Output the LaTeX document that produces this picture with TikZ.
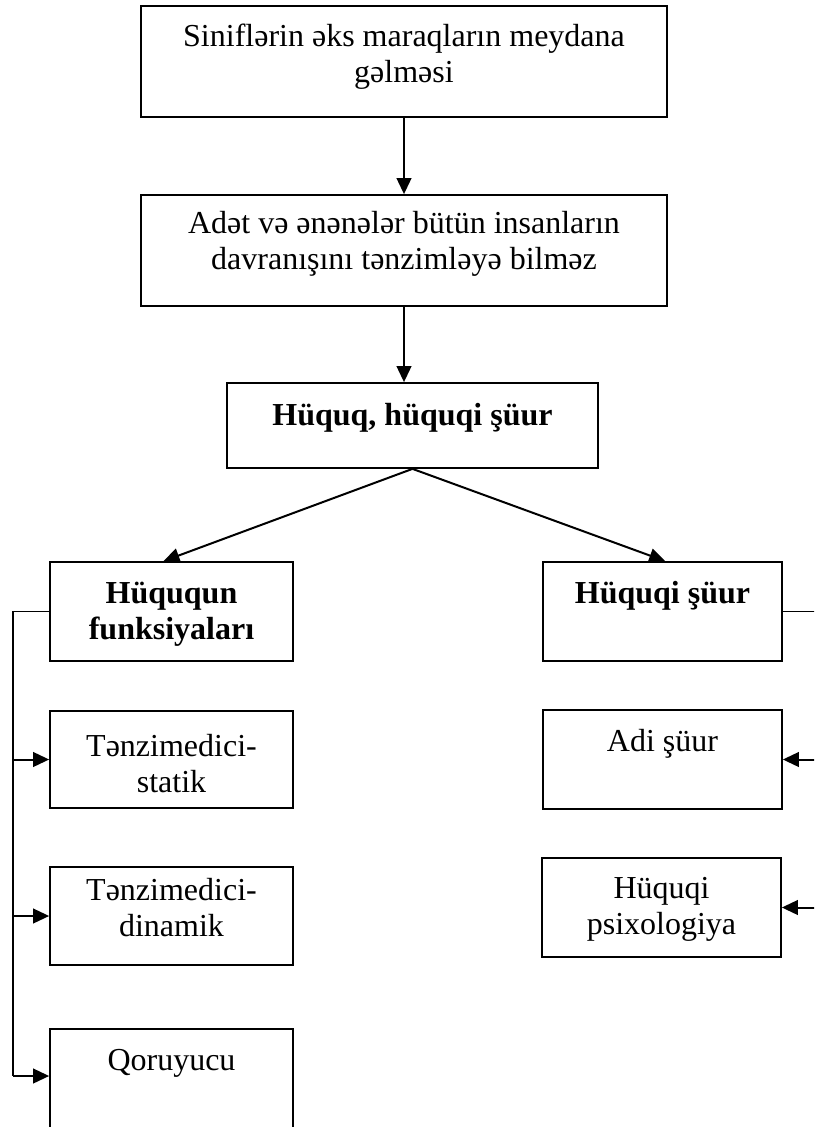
\documentclass[tikz,border=0pt]{standalone}
\usepackage{fontspec}
\setmainfont{Liberation Serif}
\usetikzlibrary{arrows.meta,fit}
\newcommand\mlines[1]{\begin{tabular}[t]{@{}c@{}}#1\end{tabular}}
\begin{document}
\begin{tikzpicture}[x=0.75pt,y=-0.75pt,
  box/.style={draw, line width=1.3pt, inner sep=0pt},
  lbl/.style={anchor=base, inner sep=0pt, font=\fontsize{24}{27}\selectfont},
  arr/.style={line width=1.5pt, -{Triangle[length=12pt,width=11pt]}},
  conn/.style={line width=1.2pt}]
\useasboundingbox (0,0) rectangle (814,1127);
\clip (0,0) rectangle (814,1127);
% boxes
\node[box, fit={(141,6) (667,117)}] (b1) {};
\node[box, fit={(141,195) (667,306)}] (b2) {};
\node[box, fit={(227,383) (598,468)}] (b3) {};
\node[box, fit={(50,562) (293,661)}] (f) {};
\node[box, fit={(543,562) (782,661)}] (s) {};
\node[box, fit={(50,711) (293,808)}] (ts) {};
\node[box, fit={(50,867) (293,965)}] (td) {};
\node[box, fit={(50,1029) (293,1131)}] (q) {};
\node[box, fit={(543,710) (782,809)}] (a) {};
\node[box, fit={(542,858) (781,957)}] (p) {};
% labels
\node[lbl] (t1) at (404,47) {\mlines{Siniflərin əks maraqların meydana\\gəlməsi}};
\node[lbl] (t2) at (404,233) {\mlines{Adət və ənənələr bütün insanların\\davranışını tənzimləyə bilməz}};
\node[lbl] (t3) at (412.5,425) {\bfseries Hüquq, hüquqi şüur};
\node[lbl] (tf) at (171.5,603) {\mlines{\bfseries Hüququn\\\bfseries funksiyaları}};
\node[lbl] (tsu) at (662.5,603) {\bfseries Hüquqi şüur};
\node[lbl] (tts) at (171.5,756) {\mlines{Tənzimedici-\\statik}};
\node[lbl] (ttd) at (171.5,900) {\mlines{Tənzimedici-\\dinamik}};
\node[lbl] (tq) at (171.5,1070) {Qoruyucu};
\node[lbl] (ta) at (662.5,751) {Adi şüur};
\node[lbl] (tp) at (661.5,898) {\mlines{Hüquqi\\psixologiya}};
% helper coordinates
\coordinate (lx) at (13,0);
\coordinate (rx) at (818,0);
% connectors
\draw[arr] (b1.south) -- (b2.north);
\draw[arr] (b2.south) -- (b2.south |- b3.north);
\draw[arr] (b3.south) -- ([xshift=-6pt]f.north);
\draw[arr] (b3.south) -- ([xshift=2pt]s.north);
\draw[conn] (f.west) -- (f.west -| lx) -- ([yshift=3pt]q.west -| lx);
\draw[arr] (ts.west -| lx) -- (ts.west);
\draw[arr] (td.west -| lx) -- (td.west);
\draw[arr] ([yshift=3pt]q.west -| lx) -- ([yshift=3pt]q.west);
\draw[conn] (s.east) -- (s.east -| rx) -- (p.east -| rx);
\draw[arr] (a.east -| rx) -- (a.east);
\draw[arr] (p.east -| rx) -- (p.east);
\end{tikzpicture}
\end{document}
